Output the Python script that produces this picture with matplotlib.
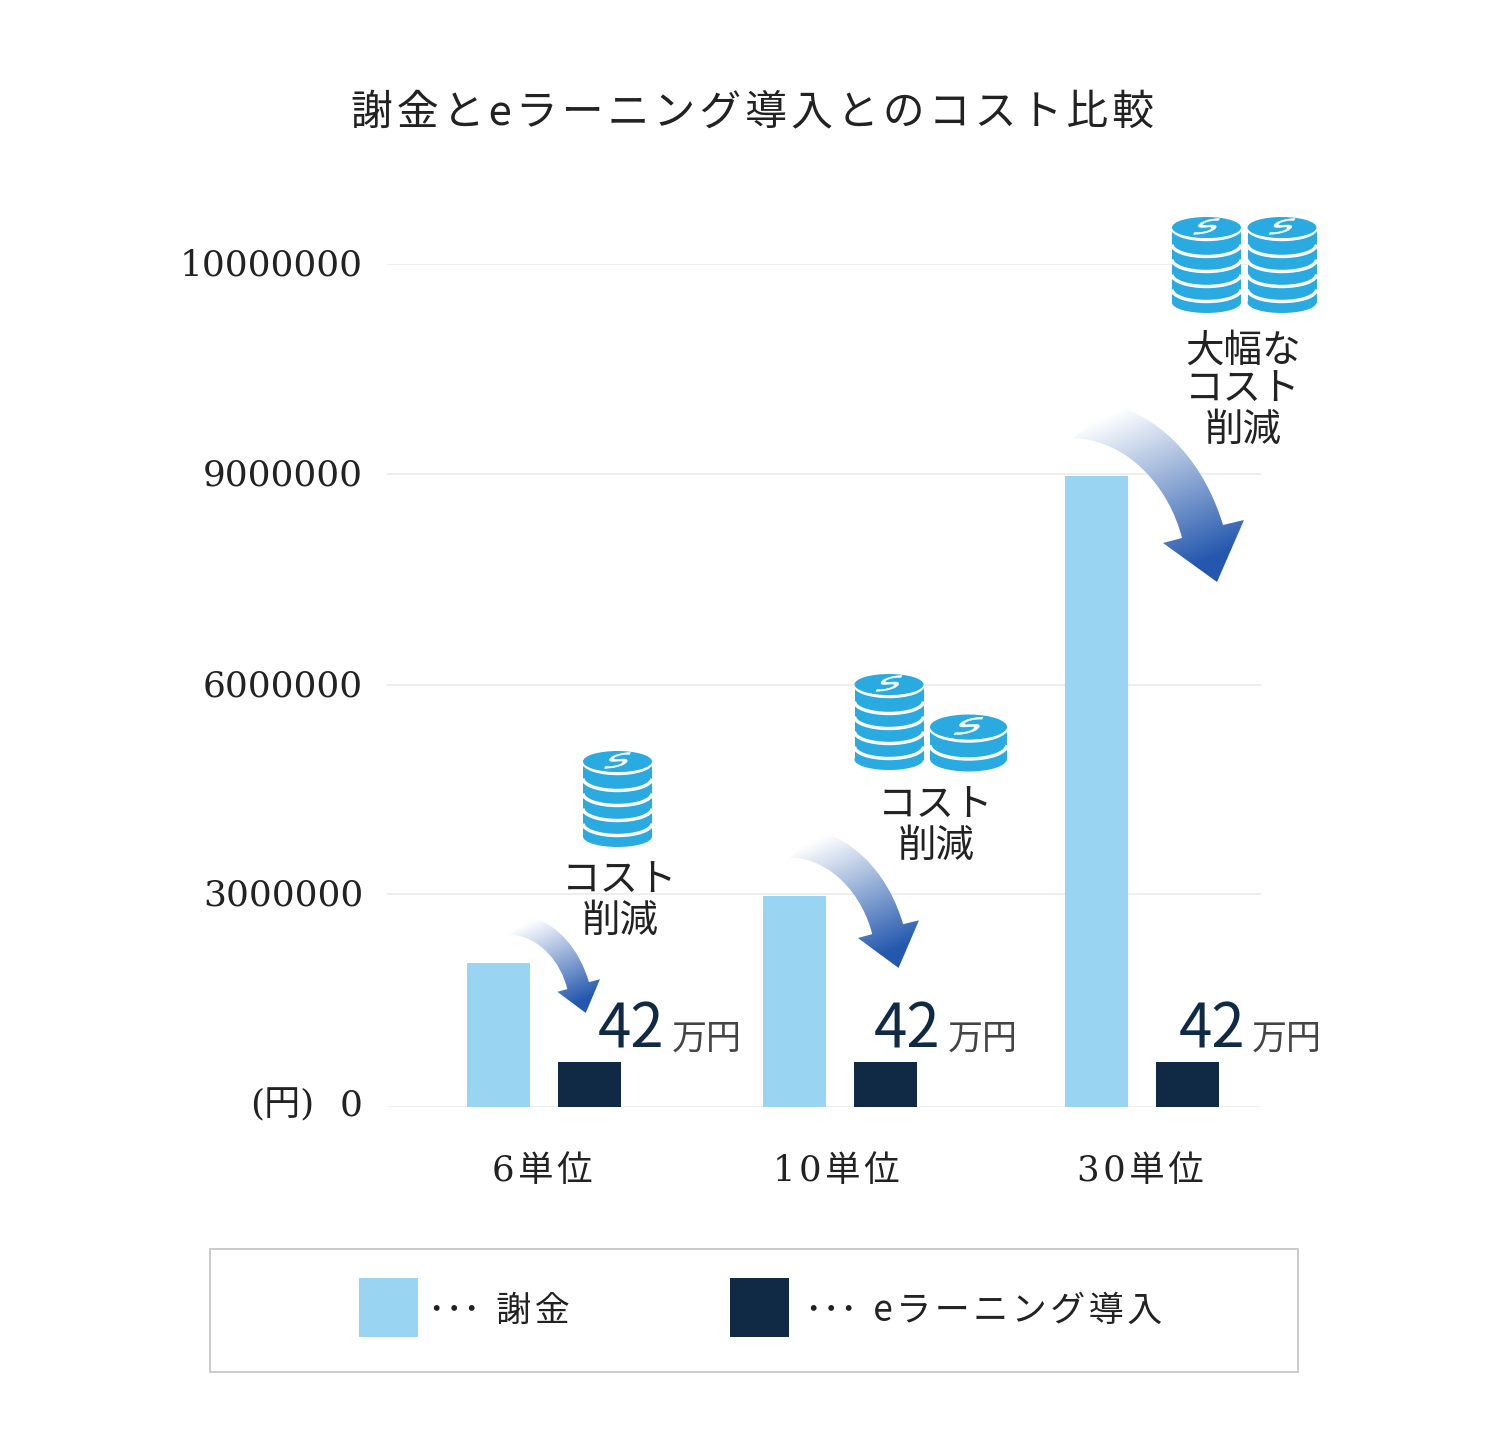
import numpy as np
import matplotlib
matplotlib.use("Agg")
import matplotlib.pyplot as plt
from matplotlib.patches import Ellipse, Rectangle, Arc, PathPatch
from matplotlib.path import Path
from matplotlib.textpath import TextPath
from matplotlib.font_manager import FontProperties
from matplotlib.transforms import Affine2D, ScaledTranslation

HAIR = "\u200a"


def spaced(s):
    """Letter-spacing of the source design, done with hair spaces."""
    return "\n".join(HAIR.join(line) for line in s.split("\n"))


# ---------- data ----------
categories = ["6単位", "10単位", "30単位"]
tuition_values = [2030000, 2975000, 8975000]       # 謝金
elearning_values = [630000, 630000, 630000]        # eラーニング導入 (drawn height as read)
y_ticks = [0, 3000000, 6000000, 9000000, 10000000]
y_tick_labels = ["0", "3000000", "6000000", "9000000", "10000000"]
series_names = ["謝金", "eラーニング導入"]
legend_prefix = "･･･  "
title_text = "謝金とeラーニング導入とのコスト比較"
savings_labels = ["コスト\n削減", "コスト\n削減", "大幅な\nコスト\n削減"]
value_big = "42"
value_unit = "万円"

# ---------- style ----------
W, H = 1500, 1430
SANS = ["Noto Sans CJK JP", "DejaVu Sans"]
SERIF = ["DejaVu Serif", "Noto Sans CJK JP"]
LIGHT = "#99d5f2"
NAVY = "#102945"
COIN = "#29abe2"
INK = "#222222"
GRID = "#eeeeee"
px = 0.72  # px -> pt at dpi 100
plt.rcParams["font.family"] = SANS

fig = plt.figure(figsize=(W / 100, H / 100), dpi=100, facecolor="white")
top_px, bot_px, left_px, right_px = 264, 1107, 387, 1261
ax = fig.add_axes([left_px / W, 1 - bot_px / H, (right_px - left_px) / W, (bot_px - top_px) / H])

# non-uniform value axis: tick spacing of the source chart
axis_fracs = [0.0, 213 / 843, 422 / 843, 633 / 843, 1.0]
ax.set_yscale("function", functions=(lambda v: np.interp(v, y_ticks, axis_fracs),
                                     lambda f: np.interp(f, axis_fracs, y_ticks)))
ax.set_ylim(0, 10000000)

group_pos = np.array([0.003, 1.0, 2.0185])
tick_pos = [-0.005, 0.986, 2.012]
bar_w, bar_off = 0.2125, 0.1535
ax.set_xlim(-0.5278, 2.42)
bars1 = ax.bar(group_pos - bar_off, tuition_values, bar_w, color=LIGHT, zorder=3)
bars2 = ax.bar(group_pos + bar_off, elearning_values, bar_w, color=NAVY, zorder=3)

ax.set_yticks(y_ticks, y_tick_labels, family=SERIF, fontsize=36 * px, color=INK)
ax.minorticks_off()
ax.set_xticks(tick_pos, [spaced(c) for c in categories], family=SERIF, fontsize=35.5 * px, color=INK)
ax.tick_params(axis="y", length=0, pad=24 * px)
ax.tick_params(axis="x", length=0, pad=47 * px)
ax.grid(axis="y", color=GRID, lw=2 * px, zorder=0)
ax.grid(axis="x", visible=False)
for s in ax.spines.values():
    s.set_visible(False)
for lab, up in zip(ax.get_yticklabels(), [5, 2, 2, 2, 2]):
    lab.set_transform(lab.get_transform() + ScaledTranslation(0, up * px / 72, fig.dpi_scale_trans))

fig.suptitle(spaced(title_text), x=752.5 / W, y=1 - 113.5 / H, va="center", ha="center",
             fontsize=41.8 * px, color=INK)

# ---------- overlay in pixel space for annotations ----------
ov = fig.add_axes([0, 0, 1, 1], facecolor="none", zorder=5)
ov.axis("off")


def arrow_path(x0, y0, sx, sy):
    pts = np.array([(1115, 405), (1165, 420), (1205, 465), (1223, 525),
                    (1244, 520), (1217, 582), (1163, 543), (1182, 538),
                    (1170, 490), (1130, 440), (1073, 438), (1115, 405)], float)
    codes = [Path.MOVETO, Path.CURVE4, Path.CURVE4, Path.CURVE4,
             Path.LINETO, Path.LINETO, Path.LINETO, Path.LINETO,
             Path.CURVE4, Path.CURVE4, Path.CURVE4, Path.LINETO]
    pts = (pts - [1073, 405]) * [sx, sy] + [x0, y0]
    return Path(pts, codes), pts


def gradient_arrow(x0, y0, sx, sy):
    path, pts = arrow_path(x0, y0, sx, sy)
    xa, xb = pts[:, 0].min(), pts[:, 0].max()
    ya, yb = pts[:, 1].min(), pts[:, 1].max()
    xs, ys = np.meshgrid(np.linspace(xa, xb, 200), np.linspace(ya, yb, 200))
    u = (xs - xa) / (xb - xa)
    v = (ys - ya) / (yb - ya)
    t = np.clip((0.35 * u + 0.85 * v - 0.12) / 0.9, 0, 1)
    c0, c1 = np.array([1, 1, 1.0]), np.array(matplotlib.colors.to_rgb("#2458ae"))
    img = c0[None, None, :] * (1 - t[..., None]) + c1[None, None, :] * t[..., None]
    im = ov.imshow(img, extent=(xa, xb, yb, ya), aspect="auto", interpolation="bilinear", zorder=2)
    im.set_clip_path(PathPatch(path, transform=ov.transData))


def dollar(cx, cy, scale):
    tp = TextPath((0, 0), "S", size=24, prop=FontProperties(family="DejaVu Sans", style="italic"))
    bb = tp.get_extents()
    tr = (Affine2D().translate(-(bb.x0 + bb.x1) / 2, -(bb.y0 + bb.y1) / 2)
          .scale(1.7 * scale, -0.68 * scale).skew_deg(-20, 0).rotate_deg(-10).translate(cx, cy))
    ov.add_patch(PathPatch(tr.transform_path(tp), fc="white", ec="white", lw=0.4, zorder=6))


def coin_stack(cx, rx, ry, cap_y, arc_ys, bottom_y):
    ov.add_patch(Rectangle((cx - rx, cap_y), 2 * rx, bottom_y - cap_y, fc=COIN, ec="none", zorder=3))
    ov.add_patch(Ellipse((cx, bottom_y), 2 * rx, 2 * ry, fc=COIN, ec="none", zorder=3))
    for y in arc_ys:
        ov.add_patch(Arc((cx, y), 2 * rx, 2 * ry + 3, theta1=0, theta2=180, color="white",
                         lw=3.4 * px, zorder=4))
    ov.add_patch(Ellipse((cx, cap_y), 2 * rx, 2 * ry, fc=COIN, ec="none", zorder=5))
    dollar(cx, cap_y - 1, rx / 34.5)


def tall(cx, cap):
    coin_stack(cx, 34.5, 10.5, cap, [cap, cap + 17, cap + 32, cap + 47, cap + 62], cap + 75)


gradient_arrow(510, 917, 0.526, 0.542)
gradient_arrow(790, 832, 0.754, 0.768)
gradient_arrow(1073, 405, 1.0, 1.0)

tall(617.5, 761.5)
tall(889, 684.5)
coin_stack(968.5, 38.5, 12.5, 727, [727, 745], 759)
tall(1206.5, 227.5)
tall(1282, 227.5)

label_pos = [(620, 901), (936, 826), (1243, 390)]
for (lx, ly), s in zip(label_pos, savings_labels):
    ov.text(lx, ly, s, ha="center", va="center", fontsize=38.5 * px, color=INK,
            linespacing=0.99, zorder=7)

big_x = [598, 874, 1179]
unit_x = [672, 948, 1252]
for bx, ux in zip(big_x, unit_x):
    ov.text(bx, 1047, value_big, ha="left", va="baseline", fontsize=60 * px, color=NAVY, zorder=7)
    ov.text(ux, 1049, value_unit, ha="left", va="baseline", fontsize=35 * px, color="#444444", zorder=7)

ov.text(282, 1105, "(円)", ha="center", va="center", fontsize=36 * px, color=INK,
        family=SERIF, zorder=7)

# legend frame and legend
ov.add_patch(Rectangle((210, 1249), 1088, 123, fc="none", ec="#cccccc", lw=2 * px, zorder=1))
fs = 35
leg = fig.legend([bars1[0], bars2[0]], [legend_prefix + spaced(n) for n in series_names], ncols=2, frameon=False,
                 loc="center left", bbox_to_anchor=(359 / W, 1 - 1307.5 / H), borderaxespad=0, borderpad=0,
                 prop=FontProperties(family=SANS, size=fs * px), labelcolor=INK,
                 handlelength=59 / fs, handleheight=(59 / fs - 0.245) / 0.65, handletextpad=10 / fs,
                 columnspacing=160 / fs)
for t, dx in zip(leg.get_texts(), [0, 8]):
    t.set_position((dx * px, -3 * px))

ov.set_xlim(0, W)
ov.set_ylim(H, 0)

fig.savefig("out.png", dpi=100, facecolor="white")
